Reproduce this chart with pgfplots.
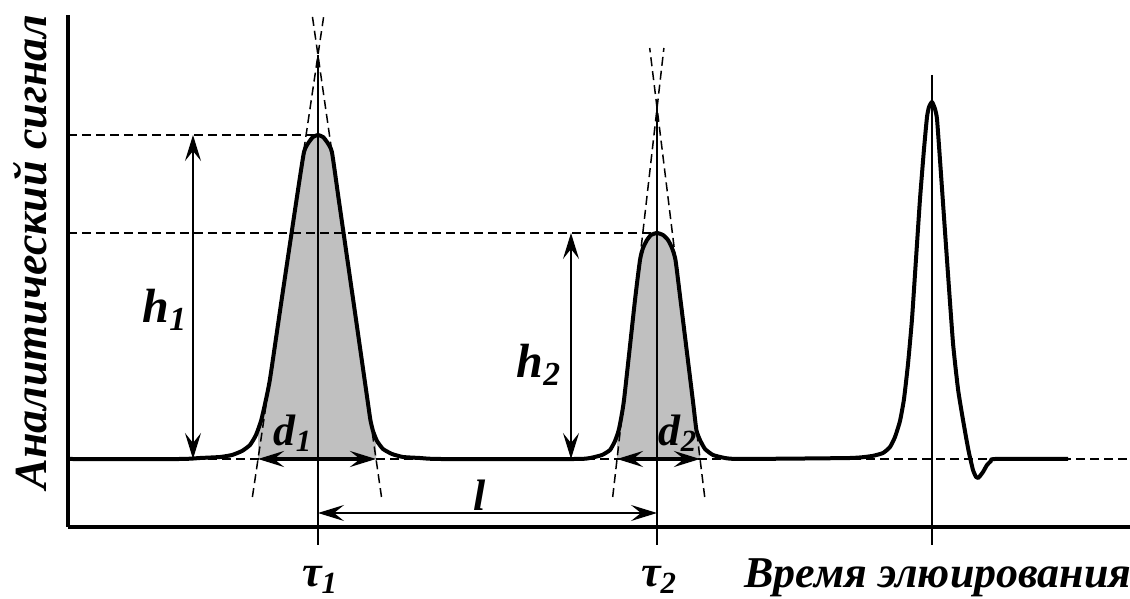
\documentclass[border=0pt]{standalone}
\usepackage{fontspec}
\setmainfont{Liberation Serif}
\usepackage{pgfplots}
\pgfplotsset{compat=1.18}
\usetikzlibrary{arrows.meta}

\definecolor{fillgray}{RGB}{192,192,192}
\tikzset{
  dim/.style={line width=1pt, {Stealth[length=13pt,width=8pt,inset=5pt]}-{Stealth[length=13pt,width=8pt,inset=5pt]}},
  lbl/.style={font=\fontsize{22}{24}\selectfont\bfseries\itshape, inner sep=0pt},
  dsh/.style={line width=0.75pt, dash pattern=on 4.5pt off 2.5pt},
}

\begin{document}
\begin{tikzpicture}
\begin{axis}[
    x=0.5pt, y=0.5pt,
    xmin=68, xmax=1130, ymin=-68, ymax=444,
    axis x line=bottom, axis y line=left,
    axis line style={line width=1.8pt, -},
    ticks=none,
    clip=false,
]
% shaded peak areas
\addplot[fill=fillgray, draw=none] coordinates {
    (258,0) (258,29) (261,38) (265,55) (270,80) (281.6,159) (296.5,259)
    (304,307) (309,316) (313,321) (318,324) (323,321) (327,316) (331.9,307)
    (338.8,259) (353.2,159) (367.5,59) (370.4,39) (373,28) (376,20) (376,0)
} -- cycle;
\addplot[fill=fillgray, draw=none] coordinates {
    (617,0) (617,24) (619,30) (624,59) (635,159) (640,199) (643,211)
    (647,219) (651,224) (657,226) (663,224) (668,219) (672,211) (675.5,199)
    (680.5,159) (692.8,59) (696.4,29) (700,19) (700,0)
} -- cycle;

% dashed helper lines
\addplot[dsh] coordinates {(68,0) (1128,0)};
\addplot[dsh] coordinates {(68,324) (318,324)};
\addplot[dsh] coordinates {(68,226) (657,226)};
\addplot[dsh] coordinates {(252.4,-38) (323.9,444)};
\addplot[dsh] coordinates {(381.5,-38) (312.2,444)};
\addplot[dsh] coordinates {(612.7,-38) (663.9,411)};
\addplot[dsh] coordinates {(704.7,-38) (649.7,411)};

% retention time lines
\addplot[line width=1pt] coordinates {(318,404) (318,-86)};
\addplot[line width=1pt] coordinates {(657,354) (657,-86)};
\addplot[line width=0.8pt] coordinates {(932,384) (932,-86)};

% chromatogram
\addplot[line width=2pt, line join=round, smooth, tension=0.3] coordinates {
    (68,0) (180,0) (200,1) (220,2) (232,4) (242,8) (250,14) (256,24) (261,38)
    (265,55) (270,80) (281.6,159) (296.5,259) (304,307) (309,317) (313,322)
    (318,324) (323,322) (327,317) (331.9,307) (338.8,259) (353.2,159)
    (367.5,59) (370.4,39) (373,28) (377,18) (383,10) (392,5) (403,2) (420,1)
    (440,0) (575,0) (590,1) (602,4) (610,9) (615,18) (619,30) (624,59)
    (635,159) (640,199) (643,211) (647,219) (651,224) (657,226) (663,224)
    (668,219) (672,211) (675.5,199) (680.5,159) (692.8,59) (696.4,29)
    (700,19) (705,10) (713,4) (725,1) (740,0) (850,1) (872,3) (883,6)
    (890,12) (895,22) (900,38) (904,60) (908,95) (912,140) (916,200) (920,260)
    (924,310) (927,342) (929,352) (932,357) (935,350) (937,340) (940,299)
    (947,199) (953,116) (958,70) (962,45) (966,22) (969,6) (973,-11)
    (976,-18) (978,-19) (980,-17) (983,-13) (987,-6) (991,-2) (995,0) (1068,0)
};

% dimension arrows
\addplot[dim] coordinates {(193,0) (193,324)};
\addplot[dim] coordinates {(571,0) (571,226)};
\addplot[dim, line width=1.6pt] coordinates {(258,0) (376,0)};
\addplot[dim, line width=1.6pt] coordinates {(617,0) (700,0)};
\addplot[dim] coordinates {(318,-54) (657,-54)};

% labels
\node[lbl, font=\fontsize{24}{26}\selectfont\bfseries\itshape] at (axis cs:165,149) {h\textsubscript{1}};
\node[lbl, font=\fontsize{24}{26}\selectfont\bfseries\itshape] at (axis cs:539,94) {h\textsubscript{2}};
\node[lbl] at (axis cs:293,26) {d\textsubscript{1}};
\node[lbl] at (axis cs:678,26) {d\textsubscript{2}};
\node[lbl] at (axis cs:480,-36) {l};
\node[lbl] at (axis cs:320,-121) {τ\textsubscript{1}};
\node[lbl] at (axis cs:659,-121) {τ\textsubscript{2}};
\node[lbl] at (axis cs:938,-119) {Время элюирования};
\node[lbl, rotate=90, font=\fontsize{23}{25}\selectfont\bfseries\itshape] at (axis cs:30,207) {Аналитический сигнал};

\coordinate (bbsw) at (axis cs:0,-140);
\coordinate (bbne) at (axis cs:1130,459);
\end{axis}
\pgfresetboundingbox
\path[use as bounding box] (bbsw) rectangle (bbne);
\end{tikzpicture}
\end{document}
